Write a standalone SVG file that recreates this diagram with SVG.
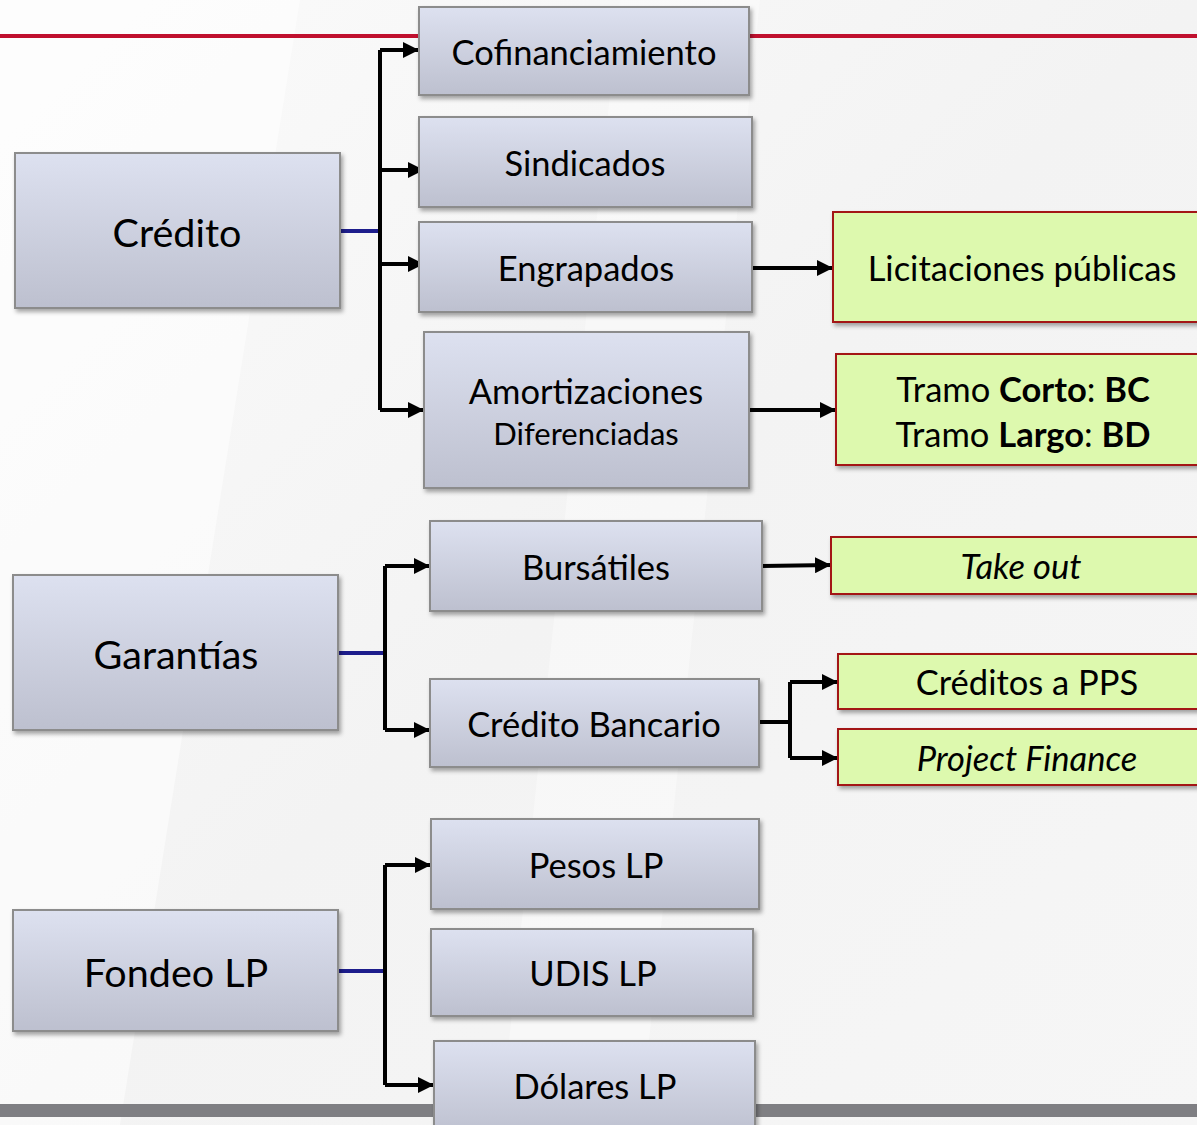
<svg xmlns="http://www.w3.org/2000/svg" width="1197" height="1125" viewBox="0 0 1197 1125">
<defs>
<linearGradient id="bg" x1="0" y1="0" x2="1" y2="1">
<stop offset="0" stop-color="#fbfbfb"/><stop offset="0.5" stop-color="#f3f3f3"/><stop offset="1" stop-color="#f6f6f6"/>
</linearGradient>
<linearGradient id="gBlue" x1="0" y1="0" x2="0" y2="1">
<stop offset="0" stop-color="#dde1f0"/><stop offset="1" stop-color="#bdc0cf"/>
</linearGradient>
<filter id="sh" x="-10%" y="-10%" width="120%" height="130%">
<feDropShadow dx="2" dy="3" stdDeviation="2" flood-color="#000" flood-opacity="0.35"/>
</filter>
<marker id="ah" viewBox="0 0 10 10" refX="10" refY="5" markerWidth="4" markerHeight="4" orient="auto" markerUnits="strokeWidth">
<path d="M0,0 L10,5 L0,10 Z" fill="#000"/>
</marker>
<style>
.n{fill:url(#gBlue);stroke:#8c8c8c;stroke-width:2;filter:url(#sh)}
.g{fill:#ddf9ae;stroke:#a31616;stroke-width:2;filter:url(#sh)}
text{font-family:Lato,"Open Sans","Liberation Sans",sans-serif;fill:#000;text-anchor:middle;dominant-baseline:central}
.t{font-size:34.5px}
.big{font-size:39.5px}
.c{fill:none;stroke:#000;stroke-width:4}
.a{fill:none;stroke:#000;stroke-width:4;marker-end:url(#ah)}
.b{fill:none;stroke:#1d1d8c;stroke-width:4}
</style>
</defs>
<rect x="0" y="0" width="1197" height="1125" fill="url(#bg)"/>
<polygon points="0,0 300,0 120,1125 0,1125" fill="#ffffff" opacity="0.5"/>
<polygon points="620,0 760,0 640,1125 500,1125" fill="#ffffff" opacity="0.35"/>
<rect x="0" y="34" width="1197" height="4" fill="#c0102e"/>
<rect x="0" y="1104" width="1197" height="13" fill="#7f7f83"/>

<g id="connectors">
<path class="b" d="M340,231 H380"/>
<path class="c" d="M380,50 V410"/>
<path class="a" d="M380,50 H419"/>
<path class="a" d="M380,170 H424"/>
<path class="a" d="M380,264 H424"/>
<path class="a" d="M380,410 H424"/>
<path class="a" d="M752,268 H833"/>
<path class="a" d="M749,410 H836"/>
<path class="b" d="M333,653 H385"/>
<path class="c" d="M385,566 V730"/>
<path class="a" d="M385,566 H430"/>
<path class="a" d="M385,730 H430"/>
<path class="a" d="M762,566 L831,565"/>
<path class="c" d="M759,722 H790"/>
<path class="c" d="M790,682 V758"/>
<path class="a" d="M790,682 H838"/>
<path class="a" d="M790,758 H838"/>
<path class="b" d="M338,971 H385"/>
<path class="c" d="M385,865 V1085"/>
<path class="a" d="M385,865 H431"/>
<path class="a" d="M385,1085 H434"/>
</g>

<g id="credito"><rect class="n" x="15" y="153" width="325" height="155"/><text class="big" x="177" y="231">Crédito</text></g>
<g id="cofinanciamiento"><rect class="n" x="419" y="7" width="330" height="88"/><text class="t" x="584" y="51">Cofinanciamiento</text></g>
<g id="sindicados"><rect class="n" x="419" y="117" width="333" height="90"/><text class="t" x="585" y="162">Sindicados</text></g>
<g id="engrapados"><rect class="n" x="419" y="222" width="333" height="90"/><text class="t" x="586" y="267">Engrapados</text></g>
<g id="amortizaciones"><rect class="n" x="424" y="332" width="325" height="156"/><text class="t" x="586" y="390">Amortizaciones</text><text x="586" y="433" style="font-size:31px">Diferenciadas</text></g>
<g id="licitaciones"><rect class="g" x="833" y="212" width="370" height="110"/><text class="t" x="1022" y="267">Licitaciones públicas</text></g>
<g id="tramo"><rect class="g" x="836" y="354" width="367" height="111"/><text class="t" x="1023" y="388">Tramo <tspan font-weight="bold">Corto</tspan>: <tspan font-weight="bold">BC</tspan></text><text class="t" x="1023" y="433">Tramo <tspan font-weight="bold">Largo</tspan>: <tspan font-weight="bold">BD</tspan></text></g>

<g id="garantias"><rect class="n" x="13" y="575" width="325" height="155"/><text class="big" x="176" y="653">Garantías</text></g>
<g id="bursatiles"><rect class="n" x="430" y="521" width="332" height="90"/><text class="t" x="596" y="566">Bursátiles</text></g>
<g id="creditobancario"><rect class="n" x="430" y="679" width="329" height="88"/><text class="t" x="594" y="723">Crédito Bancario</text></g>
<g id="takeout"><rect class="g" x="831" y="537" width="372" height="57"/><text class="t" x="1021" y="565" font-style="italic">Take out</text></g>
<g id="creditospps"><rect class="g" x="838" y="654" width="365" height="55"/><text class="t" x="1027" y="681">Créditos a PPS</text></g>
<g id="projectfinance"><rect class="g" x="838" y="729" width="365" height="56"/><text class="t" x="1027" y="757" font-style="italic">Project Finance</text></g>

<g id="fondeo"><rect class="n" x="13" y="910" width="325" height="121"/><text class="big" x="176" y="971">Fondeo LP</text></g>
<g id="pesos"><rect class="n" x="431" y="819" width="328" height="90"/><text class="t" x="596" y="864">Pesos LP</text></g>
<g id="udis"><rect class="n" x="431" y="929" width="322" height="87"/><text class="t" x="593" y="972">UDIS LP</text></g>
<g id="dolares"><rect class="n" x="434" y="1041" width="321" height="95"/><text class="t" x="595" y="1085">Dólares LP</text></g>
</svg>
